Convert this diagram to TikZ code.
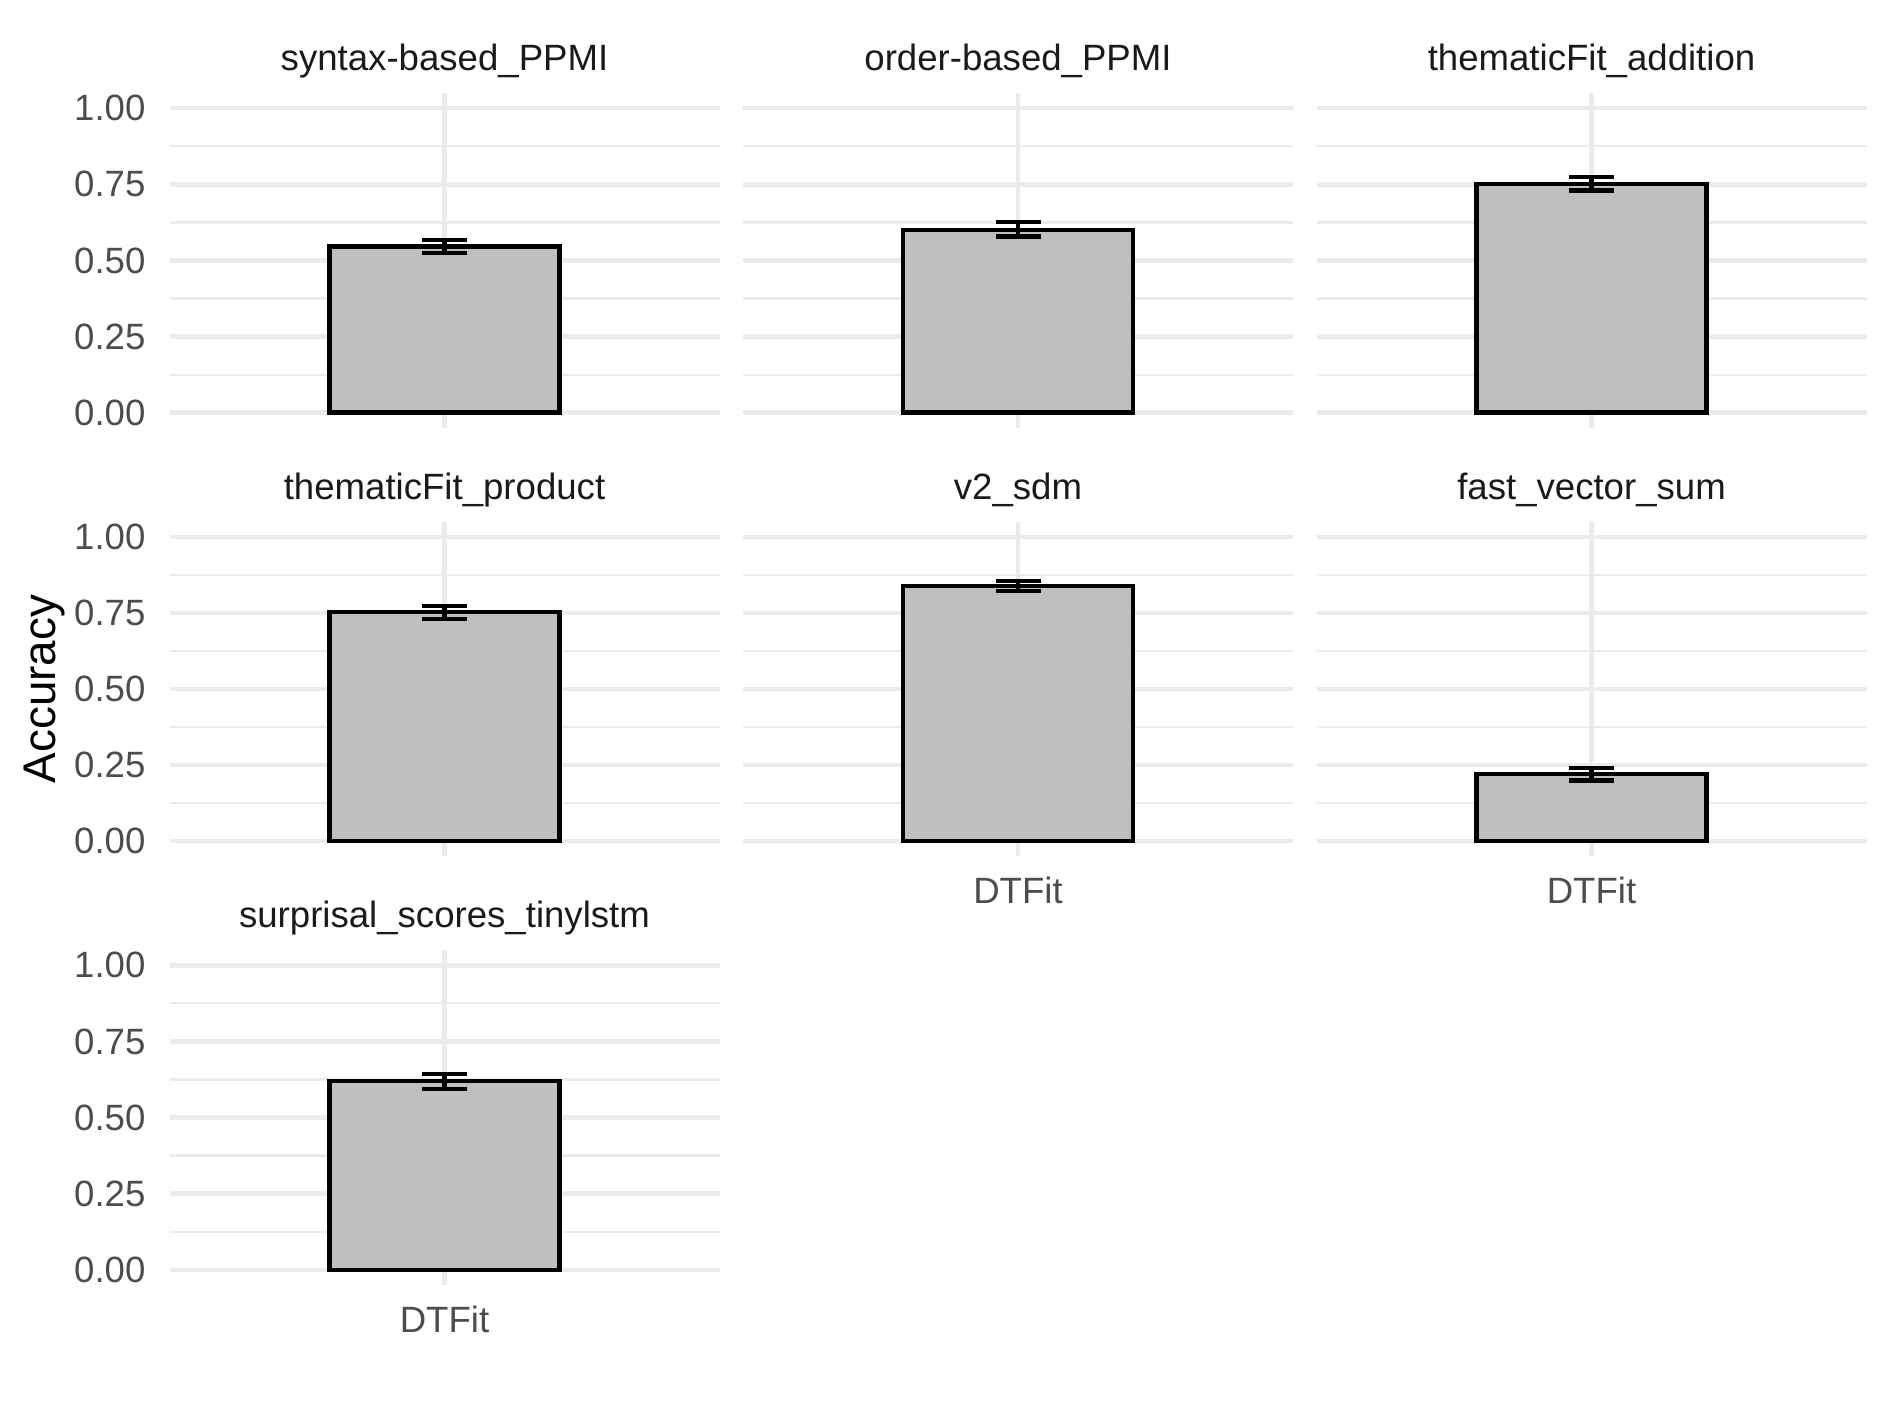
\documentclass[tikz,border=0pt]{standalone}
\usepackage{fontspec}
\setmainfont{Liberation Sans}
\definecolor{gridgray}{HTML}{EBEBEB}
\definecolor{barfill}{HTML}{BFBFBF}
\definecolor{ticktext}{HTML}{4D4D4D}
\definecolor{striptext}{HTML}{1A1A1A}
\tikzset{
	majorgrid/.style={gridgray, line width=2.2pt},
	minorgrid/.style={gridgray, line width=1.1pt},
	barbox/.style={draw=black, fill=barfill, line width=2.2pt},
	errbar/.style={black, line width=2.2pt},
	ticklab/.style={anchor=east, inner sep=0pt, text=ticktext, font=\fontsize{18.3}{22}\selectfont},
	xlab/.style={anchor=base, inner sep=0pt, text=ticktext, font=\fontsize{18.3}{22}\selectfont},
	striplab/.style={anchor=base, inner sep=0pt, text=striptext, font=\fontsize{18.3}{22}\selectfont}
}
\begin{document}
\begin{tikzpicture}[x=0.5pt, y=-0.5pt]
	\useasboundingbox[fill=white] (0,0) rectangle (1889,1417);
	\def\unit{304.4}
	\foreach \col/\row/\name/\val/\lo/\hi in {
		0/0/syntax-based\_PPMI/0.546/0.524/0.568,
		1/0/order-based\_PPMI/0.601/0.579/0.626,
		2/0/thematicFit\_addition/0.751/0.730/0.774,
		0/1/thematicFit\_product/0.752/0.730/0.773,
		1/1/v2\_sdm/0.838/0.822/0.855,
		2/1/fast\_vector\_sum/0.220/0.199/0.240,
		0/2/surprisal\_scores\_tinylstm/0.619/0.594/0.643}{
		\pgfmathsetmacro\cx{444.5+573.5*\col}
		\pgfmathsetmacro\yz{412.7+428.5*\row}
		\foreach \v in {0.125,0.375,0.625,0.875}
			\draw[minorgrid] ({\cx-275},{\yz-\unit*\v}) -- ({\cx+275},{\yz-\unit*\v});
		\foreach \v in {0,0.25,0.5,0.75,1}
			\draw[majorgrid] ({\cx-275},{\yz-\unit*\v}) -- ({\cx+275},{\yz-\unit*\v});
		\draw[majorgrid] (\cx,{\yz-\unit*1.05}) -- (\cx,{\yz+\unit*0.05});
		\draw[barbox] ({\cx-115},\yz) rectangle ({\cx+115},{\yz-\unit*\val});
		\draw[errbar] ({\cx-22.5},{\yz-\unit*\hi}) -- ({\cx+22.5},{\yz-\unit*\hi})
			(\cx,{\yz-\unit*\hi}) -- (\cx,{\yz-\unit*\lo})
			({\cx-22.5},{\yz-\unit*\lo}) -- ({\cx+22.5},{\yz-\unit*\lo});
		\node[striplab] (title\col\row) at (\cx,{\yz-342.2}) {\name};
	}
	\foreach \row in {0,1,2}{
		\pgfmathsetmacro\yz{412.7+428.5*\row}
		\foreach \v/\lab [count=\i] in {0/0.00,0.25/0.25,0.5/0.50,0.75/0.75,1/1.00}
			\node[ticklab] (tick\row\i) at (145.8,{\yz-\unit*\v}) {\lab};
	}
	\foreach \col/\row in {0/2,1/1,2/1}{
		\pgfmathsetmacro\cx{444.5+573.5*\col}
		\pgfmathsetmacro\yz{412.7+428.5*\row}
		\node[xlab] (dtfit\col) at (\cx,{\yz+62.3}) {DTFit};
	}
	\node[anchor=base, rotate=90, inner sep=0pt, font=\fontsize{22.9}{27}\selectfont] (ylab) at (55,689) {Accuracy};
\end{tikzpicture}
\end{document}
